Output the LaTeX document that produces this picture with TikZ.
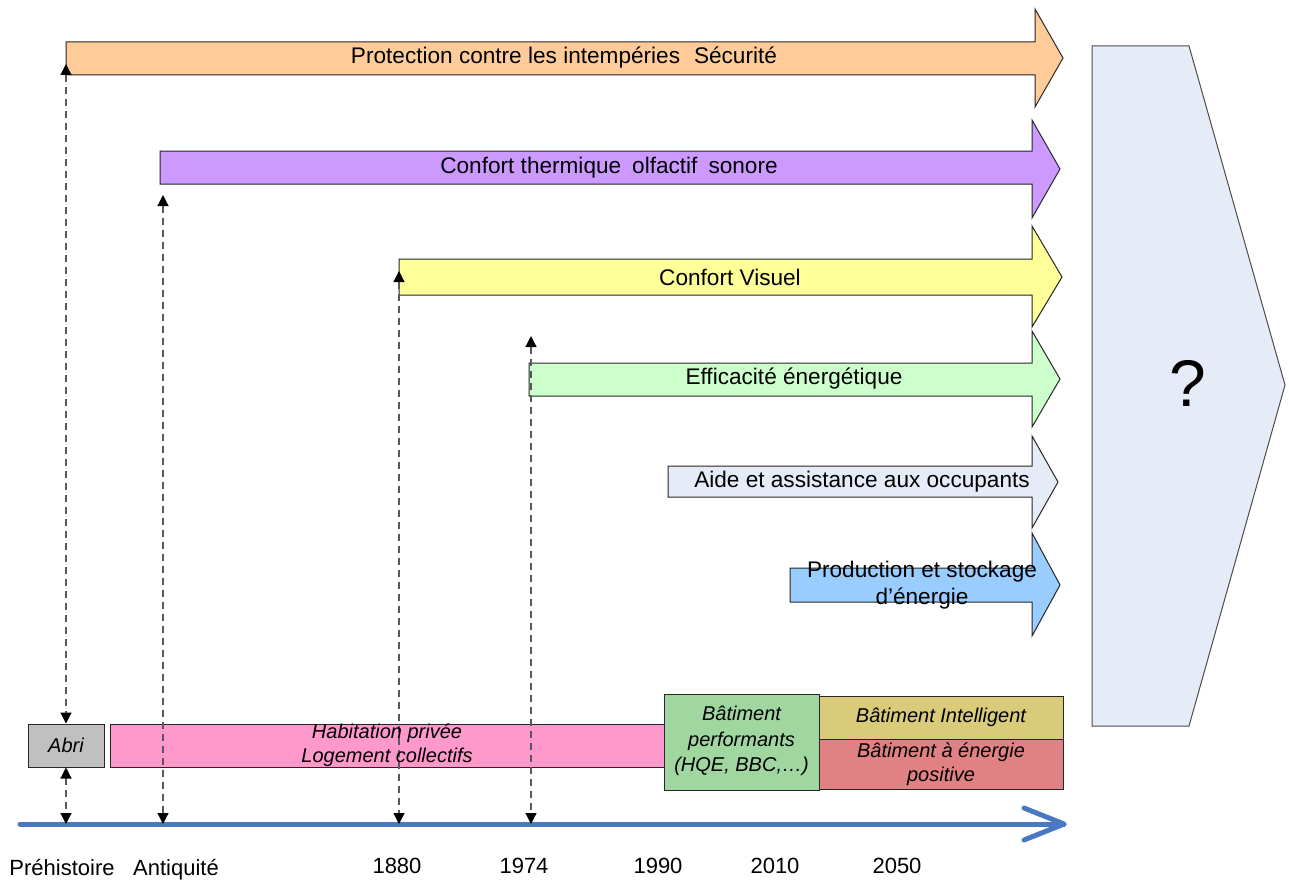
\documentclass[tikz,border=0pt]{standalone}
\usepackage{fontspec}
\setmainfont{Liberation Sans}
\usetikzlibrary{arrows.meta}
\definecolor{cOrange}{HTML}{FFCC99}
\definecolor{cPurple}{HTML}{CC99FF}
\definecolor{cYellow}{HTML}{FFFF99}
\definecolor{cGreen}{HTML}{CCFFCC}
\definecolor{cPale}{HTML}{E6ECF7}
\definecolor{cBlue}{HTML}{99CCFF}
\definecolor{cGray}{HTML}{C0C0C0}
\definecolor{cPink}{HTML}{FF99CC}
\definecolor{cBoxGreen}{HTML}{A0D6A0}
\definecolor{cOlive}{HTML}{D9CB7A}
\definecolor{cRed}{HTML}{E08284}
\definecolor{cLine}{HTML}{4A78C2}
\tikzset{
  blockarrow/.style={draw=black!85, line width=1pt, line join=miter},
  lbl/.style={font=\fontsize{22.6}{26.5}\selectfont, inner sep=0pt},
  boxlbl/.style={font=\fontsize{20}{25}\selectfont\itshape, align=center, inner sep=0pt},
  box/.style={draw=black!85, line width=1pt, inner sep=0pt},
  yearlbl/.style={font=\fontsize{22}{26}\selectfont, inner sep=0pt, anchor=base},
  dashconn/.style={draw=black!65, line width=1.2pt, dash pattern=on 7pt off 5pt,
    {Triangle[length=11pt,width=11pt,color=black]}-{Triangle[length=11pt,width=11pt,color=black]}},
  timeline/.style={draw=cLine, line width=5pt, line cap=round, line join=round}
}
\begin{document}
\begin{tikzpicture}[x=1pt,y=-1pt]
\useasboundingbox (0,0) rectangle (1289,880);

% block arrows
\draw[blockarrow, fill=cOrange] (66,42) -- (1035,42) -- (1035,9) -- (1063,58) -- (1035,107) -- (1035,75) -- (66,75) -- cycle;
\draw[blockarrow, fill=cPurple] (160,151) -- (1032,151) -- (1032,120) -- (1060,169) -- (1032,218) -- (1032,184) -- (160,184) -- cycle;
\draw[blockarrow, fill=cYellow] (399,259) -- (1032,259) -- (1032,226) -- (1062,277) -- (1032,327) -- (1032,295) -- (399,295) -- cycle;
\draw[blockarrow, fill=cGreen] (529,363) -- (1032,363) -- (1032,331) -- (1060,379) -- (1032,427) -- (1032,396) -- (529,396) -- cycle;
\draw[blockarrow, fill=cPale] (668,466) -- (1032,466) -- (1032,436) -- (1058,482) -- (1032,528) -- (1032,497) -- (668,497) -- cycle;
\draw[blockarrow, fill=cBlue] (790,568) -- (1032,568) -- (1032,533) -- (1060,585) -- (1032,636) -- (1032,602) -- (790,602) -- cycle;

% big pentagon
\draw[blockarrow, draw=black!70, fill=cPale] (1092,46) -- (1189,46) -- (1285,385) -- (1189,726) -- (1092,726) -- cycle;
\node[font=\fontsize{66}{70}\selectfont, inner sep=0pt] (q) at (1188,383) {?};

% boxes
\node[box, fill=cGray, minimum width=76pt, minimum height=43pt] (abri) at (66,745.5) {};
\node[box, fill=cPink, minimum width=554pt, minimum height=43pt] (habit) at (387,745.5) {};
\node[box, fill=cBoxGreen, minimum width=155pt, minimum height=96pt] (perf) at (741.5,742) {};
\node[box, fill=cOlive, minimum width=244pt, minimum height=43pt] (intel) at (941,717.5) {};
\node[box, fill=cRed, minimum width=244pt, minimum height=50pt] (bepos) at (941,764) {};

% timeline
\coordinate (tl0) at (20,824);
\coordinate (tl1) at (1064,824);
\coordinate (tlh1) at (1024,808);
\coordinate (tlh2) at (1024,840);
\draw[timeline] (tl0) -- (tl1);
\draw[timeline] (tlh1) -- (tl1) -- (tlh2);
\coordinate (m1) at (66,824);
\coordinate (m2) at (163,824);
\coordinate (m3) at (399,824);
\coordinate (m4) at (531,824);
\coordinate (u1) at (66,64);
\coordinate (u2) at (163,195);
\coordinate (u3) at (399,271);
\coordinate (u4) at (531,336);

% dashed connectors
\draw[dashconn] (u1) -- (abri.north);
\draw[dashconn] (abri.south) -- (m1);
\draw[dashconn] (u2) -- (m2);
\draw[dashconn] (u3) -- (m3);
\draw[dashconn] (u4) -- (m4);

% arrow labels
\node[lbl] (t1) at (564,58) {Protection contre les intempéries\hspace{14pt}Sécurité};
\node[lbl] (t2) at (609,168) {Confort thermique\hspace{11pt}olfactif\hspace{11pt}sonore};
\node[lbl] (t3) at (730,277) {Confort Visuel};
\node[lbl] (t4) at (794,379) {Efficacité énergétique};
\node[lbl] (t5) at (862,482) {Aide et assistance aux occupants};
\node[lbl, align=center] (t6) at (922,585) {Production et stockage\\d’énergie};

% box labels
\node[boxlbl] at (abri.center) {Abri};
\node[boxlbl, font=\fontsize{20}{24}\selectfont\itshape] at (habit.center) {Habitation privée\\Logement collectifs};
\node[boxlbl, font=\fontsize{20}{25.5}\selectfont\itshape] at ([yshift=1pt]perf.center) {Bâtiment\\performants\\(HQE, BBC,…)};
\node[boxlbl] at (intel.center) {Bâtiment Intelligent};
\node[boxlbl, font=\fontsize{20}{24}\selectfont\itshape] at (bepos.center) {Bâtiment à énergie\\positive};

% timeline labels
\node[yearlbl] (y1) at (62,875) {Préhistoire};
\node[yearlbl] (y2) at (176,875) {Antiquité};
\node[yearlbl] (y3) at (397,873) {1880};
\node[yearlbl] (y4) at (524,873) {1974};
\node[yearlbl] (y5) at (658,873) {1990};
\node[yearlbl] (y6) at (775,873) {2010};
\node[yearlbl] (y7) at (897,873) {2050};
\end{tikzpicture}
\end{document}
